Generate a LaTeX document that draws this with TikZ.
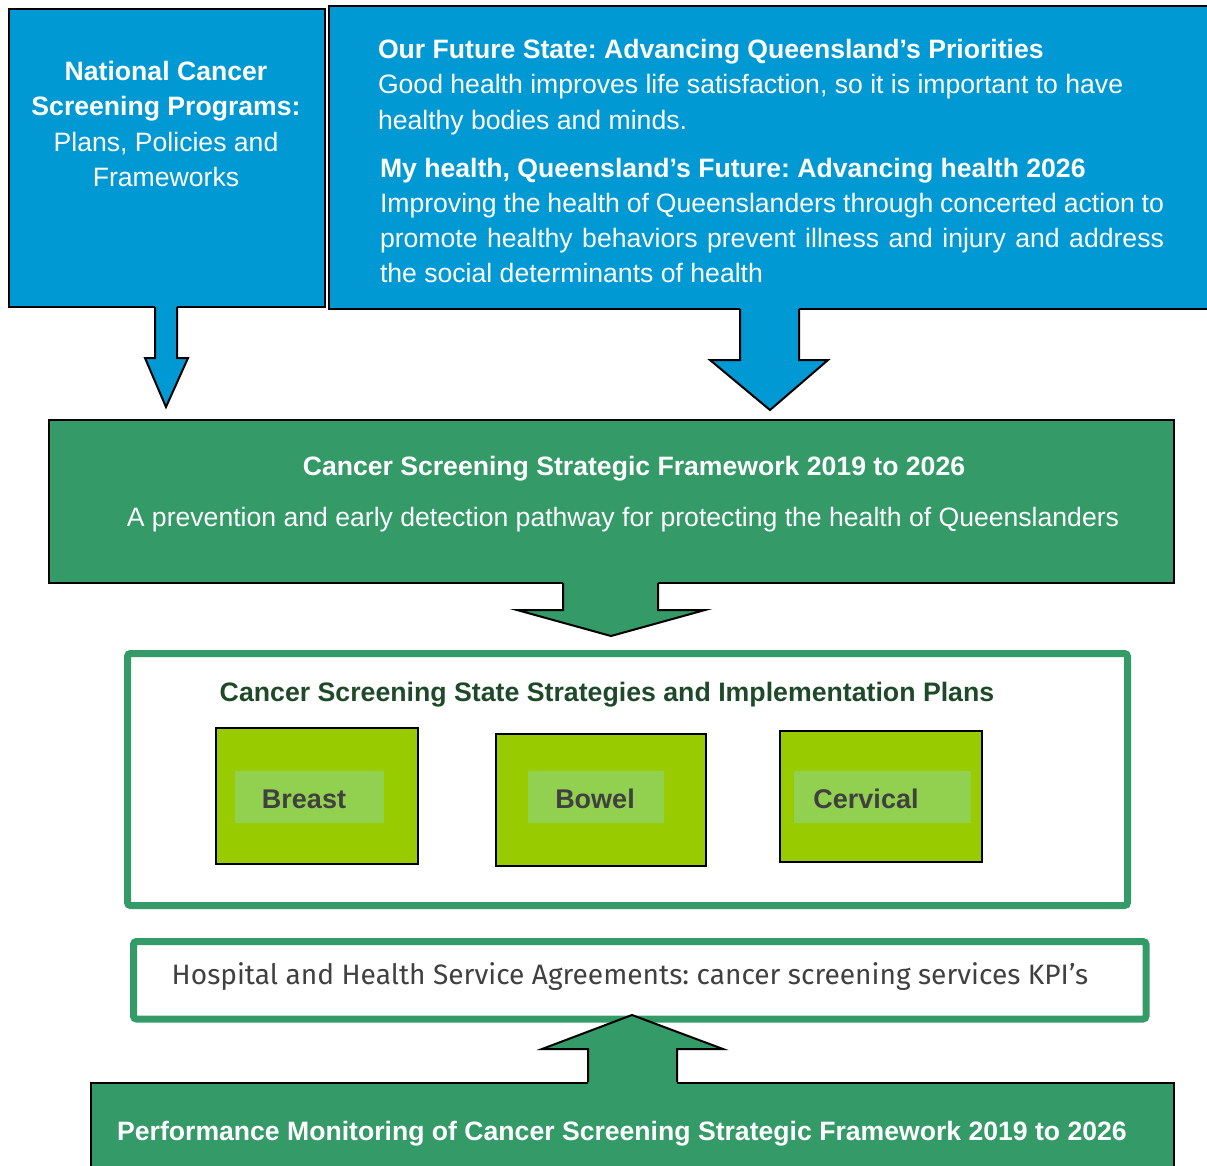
\documentclass[tikz,border=0pt]{standalone}
\usepackage{fontspec}
\setmainfont{Liberation Sans}
\newfontfamily\firafont{Fira Sans}
\usetikzlibrary{calc}
\frenchspacing
\definecolor{qblue}{HTML}{0099D4}
\definecolor{qgreen}{HTML}{349A67}
\definecolor{qlime}{HTML}{99CC00}
\definecolor{qlight}{HTML}{92D050}
\definecolor{qdark}{HTML}{404040}
\definecolor{qhead}{HTML}{1F4A2A}
\begin{document}
\begin{tikzpicture}[x=1pt,y=-1pt,
  every node/.style={outer sep=0},
  bluebox/.style={draw=black, line width=2, fill=qblue, anchor=north west, inner sep=0},
  greenbox/.style={draw=black, line width=2, fill=qgreen, anchor=north west, inner sep=0},
  framebox/.style={draw=qgreen, line width=7, fill=white, rounded corners=3, anchor=north west, inner sep=0},
  limebox/.style={draw=black, line width=2, fill=qlime, anchor=north west, inner sep=0},
  labelbox/.style={fill=qlight, anchor=north west, inner sep=0},
  arrowline/.style={draw=black, line width=2, line join=miter},
  wtext/.style={text=white, inner sep=0, font=\fontsize{26.6}{35.5}\selectfont},
  wbold/.style={text=white, inner sep=0, font=\fontsize{26.6}{35.5}\selectfont\bfseries},
  ltext/.style={text=qdark, inner sep=0, font=\fontsize{27}{30}\selectfont\bfseries}
]
\useasboundingbox (0,0) rectangle (1207,1165);
\begin{scope}
\clip (0,0) rectangle (1207,1165);

% ---- top row ----
\node[bluebox, minimum width=316, minimum height=298] (national) at (9,9) {};
\node[bluebox, minimum width=890, minimum height=303] (future) at (329,6) {};

\node[wtext, align=center] (nattext) at (166,124)
  {\textbf{National Cancer}\\ \textbf{Screening Programs:}\\ Plans, Policies and\\ Frameworks};

\node[wbold, anchor=mid west] (fut1) at (378,56) {Our Future State: Advancing Queensland’s Priorities};
\node[wtext, anchor=mid west] (fut2) at (378,91) {Good health improves life satisfaction, so it is important to have};
\node[wtext, anchor=mid west] (fut3) at (378,127) {healthy bodies and minds.};
\node[wbold, anchor=mid west] (my1) at (380,175) {My health, Queensland’s Future: Advancing health 2026};
\node[wtext, anchor=mid west] (my2) at (380,210) {\makebox[784pt][s]{Improving the health of Queenslanders through concerted action to}};
\node[wtext, anchor=mid west] (my3) at (380,245) {\makebox[784pt][s]{promote healthy behaviors prevent illness and injury and address}};
\node[wtext, anchor=mid west] (my4) at (380,280) {the social determinants of health};

% arrows from the top row
\fill[qblue] (155,305) -- (155,358) -- (145,358) -- (166,407) -- (188,358) -- (177,358) -- (177,305) -- cycle;
\draw[arrowline] (155,307) -- (155,358) -- (145,358) -- (166,407) -- (188,358) -- (177,358) -- (177,307);
\fill[qblue] (740,306) -- (740,360) -- (710,360) -- (770,410) -- (828,360) -- (799,360) -- (799,306) -- cycle;
\draw[arrowline] (740,309) -- (740,360) -- (710,360) -- (770,410) -- (828,360) -- (799,360) -- (799,309);

% ---- framework ----
\node[greenbox, minimum width=1125, minimum height=163] (framework) at (49,420) {};
\node[wbold] (fw1) at (634,469) {Cancer Screening Strategic Framework 2019 to 2026};
\node[wtext] (fw2) at (623,520) {A prevention and early detection pathway for protecting the health of Queenslanders};

\fill[qgreen] (563,580) -- (563,610) -- (517,610) -- (611,636) -- (705,610) -- (658,610) -- (658,580) -- cycle;
\draw[arrowline] (563,583) -- (563,610) -- (517,610) -- (611,636) -- (705,610) -- (658,610) -- (658,583);

% ---- state strategies ----
\node[framebox, minimum width=1000, minimum height=252] (strategies) at (127.5,653.5) {};
\node[text=qhead, inner sep=0, font=\fontsize{26.7}{30}\selectfont\bfseries] (sthead) at (607,695)
  {Cancer Screening State Strategies and Implementation Plans};

\node[limebox, minimum width=202, minimum height=136] (breast) at (216,728) {};
\node[labelbox, minimum width=149, minimum height=52] (breastlbl) at (235,771) {};
\node[ltext] at (304,799) {Breast};

\node[limebox, minimum width=210, minimum height=132] (bowel) at (496,734) {};
\node[labelbox, minimum width=136, minimum height=52] (bowellbl) at (528,771) {};
\node[ltext] at (595,799) {Bowel};

\node[limebox, minimum width=202, minimum height=131] (cervical) at (780,731) {};
\node[labelbox, minimum width=177, minimum height=52] (cervicallbl) at (794,771) {};
\node[ltext] at (866,799) {Cervical};

% ---- agreements and monitoring ----
\node[greenbox, minimum width=1083, minimum height=95] (monitor) at (91,1083) {};
\node[wbold] (montext) at (622,1134) {Performance Monitoring of Cancer Screening Strategic Framework 2019 to 2026};

\node[framebox, minimum width=1012.5, minimum height=77.5] (agreements) at (133.5,941.5) {};
\node[text=qdark, inner sep=0, font=\fontsize{28.1}{30}\selectfont\firafont] (agrtext) at (630,977)
  {Hospital and Health Service Agreements: cancer screening services KPI’s};

\fill[qgreen] (588,1085) -- (588,1049) -- (542,1049) -- (632,1015) -- (723,1049) -- (677,1049) -- (677,1085) -- cycle;
\draw[arrowline] (588,1082) -- (588,1049) -- (542,1049) -- (632,1015) -- (723,1049) -- (677,1049) -- (677,1082);
\end{scope}
\end{tikzpicture}
\end{document}
